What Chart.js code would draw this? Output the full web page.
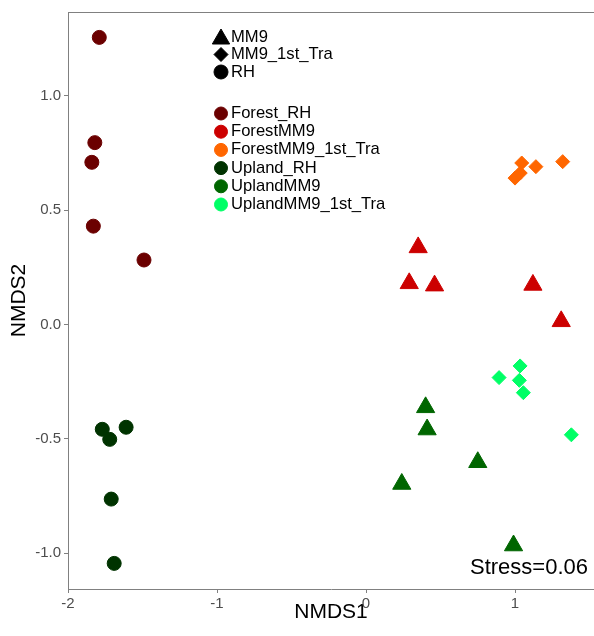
<!DOCTYPE html>
<html>
<head>
<meta charset="utf-8">
<script src="https://cdn.jsdelivr.net/npm/chart.js@4/dist/chart.umd.min.js"></script>
<style>
  html, body { margin: 0; padding: 0; background: #ffffff; }
  #wrap { width: 594px; height: 636px; }
</style>
</head>
<body>
<div id="wrap"><canvas id="nmdsChart" width="594" height="636"></canvas></div>
<script>
// Group names, colours and shapes
var groupNames = ["Forest_RH", "ForestMM9", "ForestMM9_1st_Tra", "Upland_RH", "UplandMM9", "UplandMM9_1st_Tra"];
var groupColors = ["#6B0000", "#CC0000", "#FF6600", "#003300", "#006600", "#00FF66"];
var shapeNames = ["MM9", "MM9_1st_Tra", "RH"];

// NMDS scores
var forestRH_x = [-1.79, -1.82, -1.84, -1.83, -1.49];
var forestRH_y = [1.255, 0.795, 0.709, 0.43, 0.282];
var forestMM9_x = [0.35, 0.29, 0.46, 1.12, 1.31];
var forestMM9_y = [0.337, 0.18, 0.17, 0.173, 0.014];
var forestTra_x = [1.045, 1.14, 1.32, 1.0, 1.035];
var forestTra_y = [0.706, 0.69, 0.712, 0.64, 0.662];
var uplandRH_x = [-1.77, -1.72, -1.61, -1.71, -1.69];
var uplandRH_y = [-0.458, -0.502, -0.449, -0.763, -1.044];
var uplandMM9_x = [0.40, 0.41, 0.75, 0.24, 0.99];
var uplandMM9_y = [-0.362, -0.459, -0.602, -0.697, -0.966];
var uplandTra_x = [1.034, 0.893, 1.029, 1.056, 1.378];
var uplandTra_y = [-0.181, -0.232, -0.244, -0.298, -0.482];

var xTicks = [-2, -1, 0, 1];
var yTicks = [-1.0, -0.5, 0.0, 0.5, 1.0];
var stressLabel = "Stress=0.06";

var axisGray = "#808080";
var tickTextColor = "#4D4D4D";
var fontFamily = "Arial, 'Liberation Sans', sans-serif";

function toPoints(xs, ys) {
    return xs.map(function (x, i) { return { x: x, y: ys[i] }; });
}

function makeDataset(idx, xs, ys, style, radius) {
    return {
        label: groupNames[idx],
        data: toPoints(xs, ys),
        pointStyle: style,
        pointRadius: radius,
        pointHoverRadius: radius,
        backgroundColor: groupColors[idx],
        borderColor: groupColors[idx],
        borderWidth: 1
    };
}

var datasets = [
    makeDataset(0, forestRH_x, forestRH_y, "circle", 7),
    makeDataset(1, forestMM9_x, forestMM9_y, "triangle", 10.5),
    makeDataset(2, forestTra_x, forestTra_y, "rectRot", 7),
    makeDataset(3, uplandRH_x, uplandRH_y, "circle", 7),
    makeDataset(4, uplandMM9_x, uplandMM9_y, "triangle", 10.5),
    makeDataset(5, uplandTra_x, uplandTra_y, "rectRot", 7)
];

// Legend drawn inside the plot, plus top frame line and stress label
var annotatePlugin = {
    id: "annotate",
    afterDraw: function (chart) {
        var ctx = chart.ctx;
        var area = chart.chartArea;
        ctx.save();

        // top frame line
        ctx.strokeStyle = axisGray;
        ctx.lineWidth = 1;
        ctx.beginPath();
        ctx.moveTo(area.left, area.top + 0.5);
        ctx.lineTo(area.right, area.top + 0.5);
        ctx.stroke();

        var symX = 221;
        var textX = 231;
        ctx.font = "16.6px " + fontFamily;
        ctx.textAlign = "left";
        ctx.textBaseline = "middle";

        var shapeStyles = ["triangle", "rectRot", "circle"];
        var shapeRadius = [10, 7, 7];
        var shapeY = [37, 54.5, 72];
        shapeNames.forEach(function (name, i) {
            ctx.fillStyle = "#000000";
            ctx.strokeStyle = "#000000";
            Chart.helpers.drawPoint(ctx, { pointStyle: shapeStyles[i], radius: shapeRadius[i], borderWidth: 1, rotation: 0 }, symX, shapeY[i] + (i === 0 ? 2 : 0));
            ctx.fillStyle = "#000000";
            ctx.fillText(name, textX, shapeY[i]);
        });

        groupNames.forEach(function (name, i) {
            var y = 113.5 + i * 18.2;
            ctx.fillStyle = groupColors[i];
            ctx.strokeStyle = groupColors[i];
            Chart.helpers.drawPoint(ctx, { pointStyle: "circle", radius: 6.5, borderWidth: 1, rotation: 0 }, symX, y);
            ctx.fillStyle = "#000000";
            ctx.fillText(name, textX, y);
        });

        // stress value
        ctx.font = "22px " + fontFamily;
        ctx.textAlign = "right";
        ctx.fillStyle = "#000000";
        ctx.fillText(stressLabel, 588, 568);

        ctx.restore();
    }
};

var ctx = document.getElementById("nmdsChart").getContext("2d");
var nmdsChart = new Chart(ctx, {
    type: "scatter",
    data: { datasets: datasets },
    options: {
        responsive: false,
        animation: false,
        devicePixelRatio: 1,
        layout: { autoPadding: false, padding: { top: 12, right: 0, left: 0, bottom: 0 } },
        plugins: {
            legend: { display: false },
            tooltip: { enabled: false }
        },
        scales: {
            x: {
                type: "linear",
                min: -2.0,
                max: 1.53,
                afterFit: function (scale) {
                    scale.height = 47;
                    scale.paddingLeft = 0;
                    scale.paddingRight = 0;
                },
                afterBuildTicks: function (scale) {
                    scale.ticks = xTicks.map(function (v) { return { value: v }; });
                },
                grid: { drawOnChartArea: false, drawTicks: true, tickLength: 4, tickColor: axisGray },
                border: { display: true, color: axisGray, width: 1 },
                ticks: {
                    color: tickTextColor,
                    font: { family: fontFamily, size: 15 },
                    padding: 2,
                    maxRotation: 0,
                    callback: function (value) { return value.toFixed(0); }
                },
                title: {
                    display: true,
                    text: "NMDS1",
                    color: "#000000",
                    font: { family: fontFamily, size: 21 },
                    padding: { top: 0, bottom: 11 }
                }
            },
            y: {
                type: "linear",
                min: -1.156,
                max: 1.366,
                afterFit: function (scale) {
                    scale.width = 68;
                    scale.paddingTop = 0;
                    scale.paddingBottom = 0;
                },
                afterBuildTicks: function (scale) {
                    scale.ticks = yTicks.map(function (v) { return { value: v }; });
                },
                grid: { drawOnChartArea: false, drawTicks: true, tickLength: 4, tickColor: axisGray },
                border: { display: true, color: axisGray, width: 1 },
                ticks: {
                    color: tickTextColor,
                    font: { family: fontFamily, size: 15 },
                    padding: 3,
                    callback: function (value) { return value.toFixed(1); }
                },
                title: {
                    display: true,
                    text: "NMDS2",
                    color: "#000000",
                    font: { family: fontFamily, size: 21 },
                    padding: { top: 7, bottom: 0 }
                }
            }
        }
    },
    plugins: [annotatePlugin]
});
</script>
</body>
</html>
